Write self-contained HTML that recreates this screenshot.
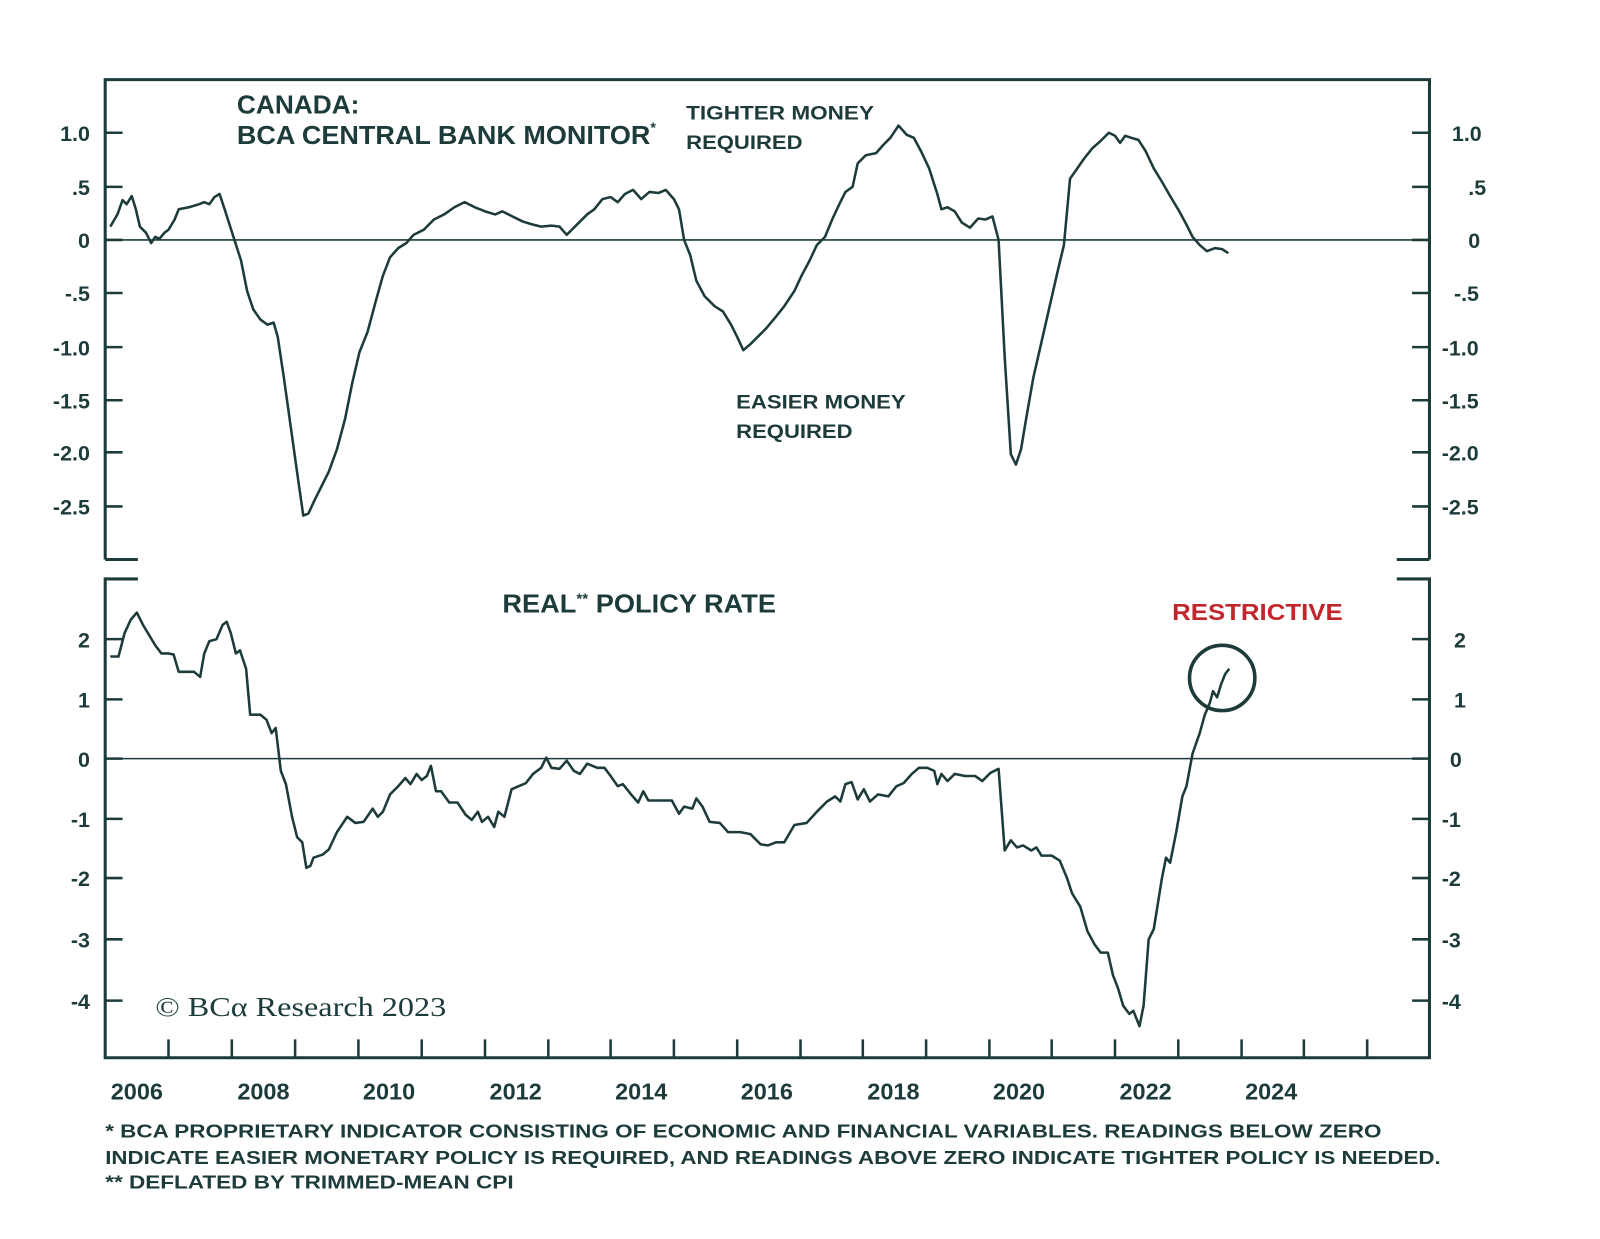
<!DOCTYPE html>
<html><head><meta charset="utf-8"><style>
html,body{margin:0;padding:0;background:#fff;}
svg{display:block;}
text{font-family:"Liberation Sans",sans-serif;fill:#1d3b3b;font-weight:bold;}
</style></head><body>
<svg width="1600" height="1239" viewBox="0 0 1567 1213.5" xmlns="http://www.w3.org/2000/svg">
<g stroke="#1d3b3b" fill="none" stroke-width="3">
<path d="M103,548 V78 H1400 V548"/>
<path d="M103,548 H135 M1368,548 H1400"/>
<path d="M135,567 H103 V1036 H1400 V567 H1368"/>
</g>
<g stroke="#1d3b3b" stroke-width="2.5">
<path d="M103,130H120M103,183H120M103,235H120M103,287H120M103,340H120M103,392H120M103,443H120M103,496H120"/>
<path d="M1383,130H1400M1383,183H1400M1383,235H1400M1383,287H1400M1383,340H1400M1383,392H1400M1383,443H1400M1383,496H1400"/>
<path d="M103,626H120M103,685H120M103,743H120M103,802H120M103,860H120M103,920H120M103,980H120"/>
<path d="M1383,626H1400M1383,685H1400M1383,743H1400M1383,802H1400M1383,860H1400M1383,920H1400M1383,980H1400"/>
<path d="M165,1036V1018M227,1036V1018M289,1036V1018M351,1036V1018M413,1036V1018M475,1036V1018M537,1036V1018M598,1036V1018M660,1036V1018M722,1036V1018M784,1036V1018M845,1036V1018M907,1036V1018M969,1036V1018M1030,1036V1018M1092,1036V1018M1154,1036V1018M1216,1036V1018M1277,1036V1018M1339,1036V1018"/>
</g>
<g stroke="#1d3b3b" stroke-width="1.5"><path d="M103,235H1400M103,743H1400"/></g>
<g font-size="21" text-anchor="end">
<text x="88" y="138">1.0</text><text x="88" y="191">.5</text><text x="88" y="243">0</text><text x="88" y="295">-.5</text><text x="88" y="348">-1.0</text><text x="88" y="400">-1.5</text><text x="88" y="451">-2.0</text><text x="88" y="504">-2.5</text>
<text x="88" y="634">2</text><text x="88" y="693">1</text><text x="88" y="751">0</text><text x="88" y="810">-1</text><text x="88" y="868">-2</text><text x="88" y="928">-3</text><text x="88" y="988">-4</text>
</g>
<g font-size="21" text-anchor="start">
<text x="1422" y="138">1.0</text><text x="1438" y="191">.5</text><text x="1438" y="243">0</text><text x="1424" y="295">-.5</text><text x="1412" y="348">-1.0</text><text x="1412" y="400">-1.5</text><text x="1412" y="451">-2.0</text><text x="1412" y="504">-2.5</text>
<text x="1424" y="634">2</text><text x="1424" y="693">1</text><text x="1420" y="751">0</text><text x="1412" y="810">-1</text><text x="1412" y="868">-2</text><text x="1412" y="928">-3</text><text x="1412" y="988">-4</text>
</g>
<g font-size="23" text-anchor="middle">
<text x="134" y="1077">2006</text><text x="258" y="1077">2008</text><text x="381" y="1077">2010</text><text x="505" y="1077">2012</text><text x="628" y="1077">2014</text><text x="751" y="1077">2016</text><text x="875" y="1077">2018</text><text x="998" y="1077">2020</text><text x="1122" y="1077">2022</text><text x="1245" y="1077">2024</text>
</g>
<text x="232" y="111" font-size="25" textLength="120" lengthAdjust="spacingAndGlyphs">CANADA:</text>
<text x="232" y="141" font-size="25" textLength="405" lengthAdjust="spacingAndGlyphs">BCA CENTRAL BANK MONITOR</text>
<text x="637" y="130" font-size="14">*</text>
<text x="672" y="117" font-size="19" textLength="184" lengthAdjust="spacingAndGlyphs">TIGHTER MONEY</text>
<text x="672" y="146" font-size="19" textLength="114" lengthAdjust="spacingAndGlyphs">REQUIRED</text>
<text x="721" y="400" font-size="19" textLength="166" lengthAdjust="spacingAndGlyphs">EASIER MONEY</text>
<text x="721" y="429" font-size="19" textLength="114" lengthAdjust="spacingAndGlyphs">REQUIRED</text>
<text x="492" y="600" font-size="25" textLength="268" lengthAdjust="spacingAndGlyphs">REAL<tspan font-size="14" dy="-9">**</tspan><tspan dy="9"> POLICY RATE</tspan></text>
<text x="1148" y="607" font-size="23" style="fill:#c0272d" textLength="167" lengthAdjust="spacingAndGlyphs">RESTRICTIVE</text>
<text x="152" y="995" font-size="27" style="font-family:'Liberation Serif',serif;font-weight:normal" textLength="285" lengthAdjust="spacingAndGlyphs">© BCα Research 2023</text>
<g font-size="18">
<text x="103" y="1114" textLength="1250" lengthAdjust="spacingAndGlyphs">*  BCA PROPRIETARY INDICATOR CONSISTING OF ECONOMIC AND FINANCIAL VARIABLES. READINGS BELOW ZERO</text>
<text x="103" y="1140" textLength="1308" lengthAdjust="spacingAndGlyphs">INDICATE EASIER MONETARY POLICY IS REQUIRED, AND READINGS ABOVE ZERO INDICATE TIGHTER POLICY IS NEEDED.</text>
<text x="103" y="1164" textLength="400" lengthAdjust="spacingAndGlyphs">** DEFLATED BY TRIMMED-MEAN CPI</text>
</g>
<g fill="none" stroke="#1d3b3b" stroke-width="2.5" stroke-linejoin="round">
<polyline points="108,222 115,210 120,196 124,200 129,192 133,205 137,222 143,228 148,238 152,232 156,234 161,228 165,225 171,215 175,205 185,203 195,200 200,198 205,200 210,193 215,190 220,205 228,230 236,255 242,285 248,303 255,313 262,318 268,316 272,330 278,370 285,420 292,470 297,505 302,503 308,490 315,476 322,462 330,440 338,410 345,375 352,345 360,325 368,295 375,270 382,252 390,243 398,238 405,230 415,225 425,215 435,210 445,203 455,198 465,203 475,207 485,210 492,207 502,212 512,217 522,220 530,222 540,221 548,222 555,230 560,225 568,217 575,210 582,205 590,195 598,193 605,198 612,190 620,186 628,195 636,188 645,189 652,186 660,195 665,205 670,235 676,250 682,275 690,290 700,300 708,305 716,318 722,330 728,343 735,337 742,330 750,322 760,310 768,300 778,285 785,270 793,255 800,240 808,232 815,215 822,200 828,188 835,183 840,160 848,152 858,150 865,142 872,135 880,123 888,132 895,135 902,148 910,165 918,190 922,205 928,203 935,207 942,218 950,223 958,214 965,215 972,212 978,235 984,350 990,445 995,455 1000,440 1005,410 1012,370 1020,335 1028,300 1036,265 1042,240 1048,175 1055,165 1062,155 1070,145 1078,138 1086,130 1092,133 1097,140 1102,133 1108,135 1115,137 1122,148 1130,165 1138,178 1146,192 1155,207 1162,220 1168,232 1175,240 1182,246 1190,243 1197,244 1203,248"/>
<polyline points="108,643 116,643 122,620 128,607 134,600 140,612 146,622 152,632 158,640 165,640 170,641 175,658 183,658 190,658 196,663 200,640 205,628 212,626 218,612 222,609 226,620 231,640 235,637 241,655 245,700 255,700 261,705 266,718 270,713 275,755 280,768 286,800 291,820 296,825 300,850 304,848 307,840 316,837 322,832 330,815 340,800 348,806 356,805 365,792 370,800 375,795 382,778 390,770 397,762 402,768 408,758 413,764 418,760 422,750 427,775 432,775 440,786 448,786 456,798 462,803 468,795 472,805 478,800 484,810 488,795 494,800 501,773 508,770 515,767 522,758 530,752 535,742 540,752 548,753 555,745 562,755 568,758 575,748 585,752 592,752 598,760 605,770 610,768 618,778 625,786 630,775 635,784 645,784 658,784 665,797 670,790 678,792 682,782 688,790 695,805 705,806 713,815 725,815 735,817 745,827 752,828 760,825 768,825 778,808 790,806 800,795 810,785 818,780 823,785 828,768 834,766 840,783 846,773 852,785 860,778 870,780 878,770 885,767 893,758 900,752 908,752 915,755 918,768 922,758 928,765 935,758 945,760 955,760 962,765 970,757 978,753 984,833 990,823 996,830 1002,828 1010,833 1015,830 1020,838 1030,838 1038,843 1045,860 1050,875 1058,888 1065,912 1072,925 1078,933 1085,933 1090,955 1095,968 1100,985 1106,993 1110,990 1116,1005 1120,985 1125,920 1130,910 1138,860 1142,840 1146,845 1152,815 1158,780 1162,770 1168,738 1175,718 1180,700 1185,688 1188,677 1192,683 1196,670 1200,660 1204,655"/>
<circle cx="1197" cy="664" r="32" stroke-width="3.5"/>
</g>
</svg>
</body></html>
